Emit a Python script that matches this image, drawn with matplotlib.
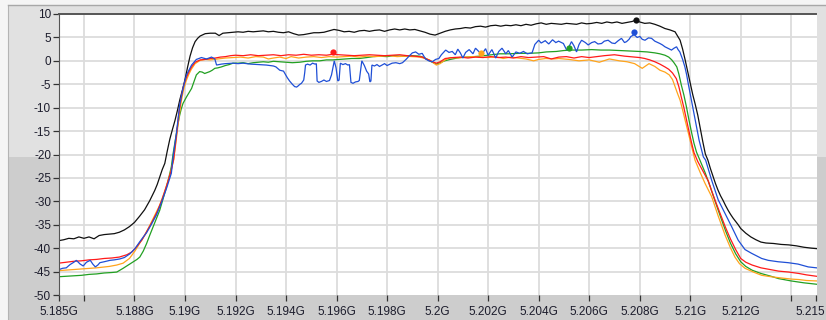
import matplotlib
matplotlib.use("Agg")
from matplotlib import pyplot as plt
from matplotlib.patches import Rectangle
from matplotlib.lines import Line2D
from matplotlib.transforms import ScaledTranslation

# frequency offsets in MHz from 5.185 GHz, level in dB
black_f = [0.0, 0.2, 0.4, 0.6, 0.8, 1.0, 1.2, 1.4, 1.6, 1.8, 2.0, 2.2, 2.4, 2.6, 2.8, 3.0, 3.2, 3.4, 3.6, 3.8,
           3.9, 4.0, 4.1, 4.2, 4.3, 4.4, 4.5, 4.6, 4.7, 4.8, 4.9, 5.0, 5.1, 5.2, 5.3, 5.4, 5.5, 5.6, 5.8, 6.0,
           6.2, 6.35, 6.5, 6.7, 6.9, 7.1, 7.3, 7.5, 7.7, 7.9, 8.1, 8.3, 8.5, 8.7, 8.9, 9.1, 9.3, 9.5, 9.7, 9.9,
           10.1, 10.3, 10.5, 10.7, 10.9, 11.1, 11.3, 11.5, 11.7, 11.9, 12.1, 12.3, 12.5, 12.7, 12.9, 13.1, 13.3,
           13.5, 13.7, 13.9, 14.1, 14.3, 14.5, 14.7, 14.9, 15.1, 15.3, 15.5, 15.7, 15.9, 16.1, 16.3, 16.5, 16.7,
           16.9, 17.1, 17.3, 17.5, 17.7, 17.9, 18.1, 18.3, 18.5, 18.7, 18.9, 19.1, 19.3, 19.5, 19.7, 19.9, 20.1,
           20.3, 20.5, 20.7, 20.9, 21.1, 21.3, 21.5, 21.7, 21.9, 22.1, 22.3, 22.5, 22.7, 22.85, 23.0, 23.2, 23.4,
           23.6, 23.8, 24.0, 24.2, 24.4, 24.5, 24.6, 24.7, 24.8, 24.9, 25.0, 25.1, 25.2, 25.3, 25.4, 25.5, 25.6,
           25.7, 25.8, 25.9, 26.0, 26.1, 26.2, 26.3, 26.4, 26.5, 26.6, 26.7, 26.8, 26.9, 27.0, 27.2, 27.4, 27.6,
           27.8, 28.0, 28.3, 28.6, 28.9, 29.2, 29.5, 29.8, 30.0]
black_db = [-38.4, -38.2, -37.9, -38.0, -37.6, -37.9, -37.6, -38.0, -37.3, -37.1, -37.0, -36.9, -36.6, -36.1,
            -35.4, -34.5, -33.2, -31.8, -29.9, -27.7, -26.4, -24.8, -23.2, -21.9, -19.2, -16.7, -14.7, -12.8,
            -10.6, -8.2, -6.2, -4.0, -1.4, 1.0, 2.8, 4.1, 4.8, 5.3, 5.8, 5.9, 5.9, 5.4, 5.9, 6.0, 6.1, 6.2, 6.1,
            6.3, 6.2, 6.3, 6.4, 6.2, 6.3, 6.1, 6.0, 6.2, 5.8, 5.5, 5.6, 5.8, 6.0, 6.0, 6.1, 6.4, 6.7, 6.5, 6.2,
            6.3, 6.1, 6.4, 6.5, 6.3, 6.5, 6.6, 6.3, 6.6, 6.8, 6.6, 6.8, 6.6, 6.7, 6.4, 6.1, 5.7, 5.5, 5.9, 6.3,
            6.6, 6.8, 6.9, 7.1, 7.0, 7.3, 7.4, 7.2, 7.5, 7.6, 7.4, 7.6, 7.5, 7.7, 7.5, 7.8, 7.6, 7.9, 8.1, 7.8,
            8.0, 7.9, 7.8, 8.0, 7.9, 7.8, 8.1, 7.9, 8.0, 8.2, 8.0, 8.3, 8.1, 8.3, 8.0, 8.2, 8.4, 8.7, 8.3, 8.0,
            8.1, 7.8, 7.4, 6.9, 6.6, 6.2, 5.3, 4.4, 2.5, 0.2, -2.3, -4.8, -7.2, -9.3, -11.6, -14.5, -17.3, -19.9,
            -21.2, -23.0, -24.6, -26.2, -27.6, -28.8, -29.8, -30.9, -31.9, -32.8, -33.6, -34.3, -35.0, -35.8,
            -36.8, -37.6, -38.2, -38.7, -38.9, -39.0, -39.2, -39.3, -39.5, -39.8, -40.0, -40.1]

red_f = [0.0, 0.3, 0.6, 0.9, 1.2, 1.5, 1.8, 2.1, 2.4, 2.7, 2.9, 3.1, 3.3, 3.5, 3.7, 3.9, 4.1, 4.3, 4.45, 4.55,
         4.65, 4.75, 4.85, 4.95, 5.05, 5.15, 5.25, 5.4, 5.6, 5.8, 6.0, 6.2, 6.4, 6.6, 6.8, 7.0, 7.3, 7.6, 7.9,
         8.2, 8.5, 8.8, 9.1, 9.4, 9.7, 10.0, 10.3, 10.6, 10.85, 11.1, 11.4, 11.7, 12.0, 12.3, 12.6, 12.9, 13.2,
         13.5, 13.8, 14.1, 14.4, 14.6, 14.8, 14.95, 15.1, 15.3, 15.6, 15.9, 16.2, 16.5, 16.8, 17.1, 17.4, 17.7,
         18.0, 18.3, 18.6, 18.9, 19.2, 19.5, 19.8, 20.1, 20.4, 20.7, 21.0, 21.3, 21.6, 22.0, 22.4, 22.8, 23.0,
         23.2, 23.4, 23.6, 23.8, 24.0, 24.15, 24.3, 24.45, 24.55, 24.65, 24.75, 24.85, 24.95, 25.05, 25.15,
         25.3, 25.45, 25.6, 25.72, 25.85, 26.0, 26.2, 26.4, 26.6, 26.8, 27.0, 27.2, 27.45, 27.8, 28.2, 28.5,
         28.9, 29.3, 29.6, 30.0]
red_db = [-43.2, -43.0, -42.8, -42.7, -42.5, -42.4, -42.2, -42.1, -41.9, -41.4, -40.8, -39.6, -38.2, -36.3,
          -34.4, -32.2, -29.5, -26.2, -23.5, -21.0, -16.5, -11.5, -7.8, -5.2, -3.6, -2.4, -1.4, -0.3, 0.2, 0.3,
          0.5, 0.6, 0.8, 0.9, 1.1, 1.2, 1.1, 1.3, 1.1, 1.2, 1.3, 1.1, 1.3, 1.2, 1.4, 1.2, 1.3, 1.2, 1.4, 1.3,
          1.2, 1.1, 1.2, 1.3, 1.2, 1.1, 1.2, 1.3, 1.1, 1.0, 0.8, 0.3, -0.2, -0.5, -0.2, 0.5, 0.7, 0.8, 0.6,
          0.8, 0.7, 0.9, 0.7, 0.8, 0.6, 0.9, 0.7, 0.8, 0.9, 0.4, 0.8, 0.9, 0.6, 0.9, 0.7, 0.9, 1.1, 1.3, 1.0,
          0.8, 0.7, 0.5, 0.2, -0.2, -0.7, -1.3, -1.8, -2.6, -3.8, -5.5, -7.8, -10.0, -12.5, -15.0, -17.4,
          -19.6, -21.5, -23.0, -24.5, -25.7, -27.8, -30.0, -32.8, -35.6, -38.1, -40.3, -42.2, -43.0, -43.6,
          -44.2, -44.6, -44.9, -45.1, -45.4, -45.7, -46.0]

orange_f = [0.0, 0.5, 1.0, 1.5, 2.0, 2.3, 2.55, 2.8, 3.02, 3.2, 3.4, 3.6, 3.8, 4.0, 4.2, 4.4, 4.55, 4.65, 4.75,
            4.85, 4.95, 5.05, 5.15, 5.25, 5.4, 5.6, 5.8, 6.0, 6.3, 6.6, 6.9, 7.2, 7.5, 7.8, 8.1, 8.3, 8.5, 8.75,
            9.0, 9.2, 9.5, 9.8, 10.1, 10.4, 10.7, 11.0, 11.3, 11.6, 11.9, 12.2, 12.5, 12.8, 13.1, 13.4, 13.7,
            14.0, 14.3, 14.5, 14.68, 14.85, 14.95, 15.1, 15.3, 15.5, 15.8, 16.1, 16.4, 16.7, 17.0, 17.3, 17.6,
            17.9, 18.2, 18.5, 18.8, 19.0, 19.28, 19.6, 19.8, 20.2, 20.6, 21.0, 21.4, 21.8, 22.2, 22.5, 22.8,
            23.1, 23.37, 23.6, 23.8, 24.0, 24.17, 24.3, 24.4, 24.5, 24.6, 24.7, 24.8, 24.93, 25.06, 25.19, 25.4,
            25.59, 25.85, 26.1, 26.38, 26.6, 26.77, 26.95, 27.17, 27.5, 27.83, 28.2, 28.5, 29.0, 29.3, 29.6, 30.0]
orange_db = [-44.8, -44.6, -44.4, -44.2, -43.9, -43.6, -43.2, -42.2, -40.6, -39.0, -37.3, -35.2, -33.0, -30.8,
             -27.8, -24.4, -21.2, -17.0, -12.5, -8.7, -6.0, -4.2, -2.9, -1.8, -0.6, 0.1, 0.3, 0.2, 0.4, 0.6, 0.7,
             0.8, 0.6, 0.9, 0.8, 0.4, 0.6, 0.8, 0.5, 0.9, 0.6, 0.8, 0.9, 0.7, 0.9, 0.8, 0.9, 1.0, 0.8, 1.0, 0.9,
             1.0, 1.1, 0.9, 1.0, 0.9, 0.8, 0.5, 0.2, -0.5, -0.9, -0.6, 0.2, 0.7, 0.6, 0.8, 0.9, 0.8, 0.7, 0.9,
             0.5, 0.8, 0.6, 0.4, 0.0, 0.3, 0.5, 0.4, 0.5, 0.3, 0.0, 0.2, -0.3, 0.4, 0.0, -0.2, -0.6, -1.6, -0.6,
             -1.2, -2.0, -2.4, -3.0, -4.0, -5.5, -7.0, -8.4, -10.5, -12.7, -15.5, -18.4, -21.2, -23.9, -26.2,
             -29.0, -33.0, -37.2, -40.0, -41.9, -43.3, -44.3, -45.1, -45.8, -46.1, -46.3, -46.6, -46.7, -46.9,
             -47.0]

green_f = [0.0, 0.3, 0.6, 0.9, 1.2, 1.5, 1.8, 2.1, 2.3, 2.55, 2.75, 2.95, 3.1, 3.21, 3.35, 3.48, 3.6, 3.74,
           3.87, 4.0, 4.13, 4.27, 4.37, 4.46, 4.53, 4.6, 4.66, 4.72, 4.79, 4.85, 4.92, 5.0, 5.06, 5.15, 5.26,
           5.35, 5.45, 5.58, 5.68, 5.78, 5.88, 5.98, 6.08, 6.18, 6.3, 6.44, 6.6, 6.75, 6.9, 7.1, 7.3, 7.5, 7.7,
           7.9, 8.1, 8.3, 8.5, 8.75, 9.0, 9.25, 9.54, 9.8, 10.05, 10.33, 10.6, 10.85, 11.1, 11.35, 11.6, 11.9,
           12.2, 12.45, 12.7, 13.0, 13.25, 13.5, 13.75, 14.0, 14.3, 14.5, 14.75, 14.95, 15.1, 15.28, 15.5,
           15.87, 16.2, 16.67, 17.0, 17.46, 17.8, 18.25, 18.6, 19.0, 19.3, 19.7, 20.0, 20.3, 20.7, 21.1, 21.46,
           21.8, 22.2, 22.65, 23.0, 23.3, 23.6, 23.8, 24.0, 24.15, 24.27, 24.37, 24.47, 24.55, 24.65, 24.75,
           24.85, 24.95, 25.05, 25.15, 25.25, 25.4, 25.6, 25.8, 26.0, 26.2, 26.4, 26.6, 26.8, 27.0, 27.2,
           27.45, 27.8, 28.2, 28.5, 29.0, 29.5, 30.0]
green_db = [-46.1, -46.0, -45.9, -45.8, -45.6, -45.5, -45.3, -45.2, -45.1, -44.3, -43.6, -42.9, -42.4, -41.9,
            -40.6, -39.0, -37.3, -35.4, -33.6, -31.9, -29.5, -26.9, -24.7, -22.6, -19.8, -17.5, -15.5, -13.5,
            -11.6, -10.3, -9.1, -8.3, -7.7, -6.9, -5.9, -4.5, -3.0, -2.3, -2.4, -2.7, -2.5, -2.3, -2.0, -1.6,
            -1.5, -1.3, -1.0, -0.8, -0.5, -0.5, -0.4, -0.6, -0.4, -0.3, -0.2, -0.3, -0.1, -0.2, -0.3, -0.4,
            -0.3, -0.1, 0.0, 0.0, 0.2, 0.2, 0.3, 0.4, 0.5, 0.5, 0.7, 0.9, 1.0, 0.9, 1.1, 1.0, 1.0, 1.1, 1.0,
            0.6, -0.2, -0.7, -0.4, 0.0, 0.3, 0.7, 0.8, 1.0, 1.2, 1.5, 1.5, 1.6, 1.6, 1.7, 1.9, 2.0, 2.2, 2.3,
            2.3, 2.4, 2.3, 2.3, 2.2, 2.1, 2.0, 1.9, 1.7, 1.5, 1.2, 0.8, 0.2, -0.5, -1.3, -2.8, -5.2, -7.3,
            -9.8, -12.6, -15.2, -17.6, -19.5, -21.4, -24.0, -27.0, -30.2, -33.3, -36.3, -39.0, -41.2, -42.9,
            -43.9, -44.7, -45.4, -46.0, -46.5, -47.0, -47.4, -47.7]

blue_f = [0.0, 0.15, 0.3, 0.45, 0.6, 0.7, 0.85, 0.97, 1.1, 1.25, 1.35, 1.45, 1.55, 1.63, 1.8, 2.03, 2.2, 2.42,
          2.6, 2.82, 3.02, 3.2, 3.35, 3.48, 3.65, 3.87, 4.05, 4.27, 4.46, 4.53, 4.66, 4.79, 4.92, 5.06, 5.26,
          5.45, 5.65, 5.85, 6.05, 6.18, 6.25, 6.44, 6.6, 6.9, 7.1, 7.3, 7.6, 7.9, 8.22, 8.5, 8.6, 8.75, 8.9,
          9.05, 9.14, 9.25, 9.34, 9.42, 9.47, 9.55, 9.61, 9.7, 9.74, 9.77, 9.85, 9.95, 10.05, 10.15, 10.2,
          10.23, 10.3, 10.4, 10.5, 10.6, 10.72, 10.8, 10.91, 10.98, 11.05, 11.1, 11.15, 11.25, 11.35, 11.45,
          11.51, 11.57, 11.65, 11.75, 11.85, 11.9, 12.0, 12.1, 12.19, 12.27, 12.32, 12.36, 12.4, 12.5, 12.6,
          12.7, 12.8, 12.9, 13.0, 13.08, 13.2, 13.35, 13.5, 13.61, 13.75, 13.87, 14.0, 14.13, 14.26, 14.39,
          14.52, 14.65, 14.79, 14.92, 15.05, 15.15, 15.32, 15.45, 15.58, 15.7, 15.8, 15.9, 16.0, 16.11, 16.25,
          16.4, 16.5, 16.63, 16.75, 16.9, 17.0, 17.15, 17.3, 17.42, 17.55, 17.7, 17.8, 17.95, 18.1, 18.25,
          18.4, 18.55, 18.74, 18.85, 19.0, 19.1, 19.26, 19.4, 19.55, 19.68, 19.79, 19.98, 20.11, 20.2, 20.3,
          20.4, 20.5, 20.6, 20.7, 20.85, 20.96, 21.1, 21.22, 21.35, 21.49, 21.6, 21.75, 21.9, 22.02, 22.15,
          22.28, 22.4, 22.48, 22.58, 22.65, 22.72, 22.78, 22.9, 23.01, 23.1, 23.21, 23.35, 23.47, 23.6, 23.8,
          23.9, 24.0, 24.15, 24.26, 24.36, 24.46, 24.52, 24.59, 24.7, 24.79, 24.86, 24.92, 25.02, 25.12,
          25.23, 25.35, 25.44, 25.52, 25.61, 25.85, 26.11, 26.38, 26.64, 26.9, 27.17, 27.43, 27.83, 28.09,
          28.48, 28.88, 29.27, 29.67, 30.0]
blue_db = [-44.6, -44.3, -44.2, -43.5, -43.0, -42.6, -43.4, -43.8, -43.0, -42.6, -43.4, -44.0, -43.6, -43.1,
           -42.9, -42.6, -42.5, -42.3, -42.0, -41.2, -40.1, -38.7, -37.6, -36.7, -35.1, -32.9, -30.5, -27.2,
           -24.0, -20.5, -15.5, -9.4, -5.9, -3.0, -0.9, 0.3, 0.7, 0.4, 0.8, 0.4, -0.9, -0.7, -0.6, -0.5, -0.6,
           -0.5, -0.7, -0.8, -0.9, -1.1, -1.3, -2.0, -2.2, -3.6, -4.3, -5.0, -5.5, -5.6, -5.4, -5.0, -4.8,
           -4.1, -2.5, -0.9, -0.7, -0.9, -0.5, -0.7, -0.6, -4.3, -4.6, -4.4, -4.1, -4.4, -4.2, -3.0, 0.0,
           -1.5, -4.3, -4.1, -0.5, -0.8, -0.6, -0.9, -0.8, -4.6, -4.8, -4.5, -4.4, -4.2, 0.0, -1.0, -2.2,
           -2.8, -4.5, -4.3, -0.9, -1.1, -0.8, -1.2, -0.9, -0.6, -1.0, -0.8, -0.5, -0.4, -0.6, -0.4, 0.3, 1.0,
           1.7, 1.9, 1.4, 1.6, 0.4, 0.0, -0.2, 0.3, 0.5, 1.3, 2.3, 1.8, 2.0, 1.3, 2.5, 1.7, 0.6, 1.8, 2.4,
           1.5, 2.7, 2.0, 1.4, 2.6, 1.2, 2.4, 0.6, 2.0, 2.7, 1.5, 2.2, 0.8, 1.9, 1.6, 2.0, 1.5, 1.7, 3.5, 4.4,
           3.8, 4.3, 3.6, 4.5, 3.9, 4.2, 3.7, 2.3, 3.0, 4.1, 3.2, 1.9, 3.5, 4.4, 3.9, 3.4, 3.9, 4.1, 3.6, 3.7,
           4.2, 4.4, 3.8, 3.7, 4.3, 4.8, 3.9, 4.1, 4.6, 5.2, 5.4, 5.6, 5.0, 5.2, 4.6, 4.4, 4.9, 4.8, 4.2, 3.7,
           3.4, 3.0, 2.6, 2.3, 2.7, 3.0, 2.4, 1.9, 0.3, -1.3, -3.0, -4.8, -7.6, -10.5, -13.5, -16.9, -18.8,
           -20.5, -21.2, -25.5, -29.7, -32.6, -35.4, -38.3, -40.3, -41.1, -42.2, -42.6, -42.9, -43.1, -43.4,
           -44.0, -44.2]

# peak markers (offset MHz, dB)
markers_f = [22.85, 22.78, 10.84, 16.72, 20.21]
markers_db = [8.7, 6.1, 1.8, 1.6, 2.7]

series_colors = ["#101010", "#1f4fd6", "#ff1a1a", "#ffa41c", "#22a022"]

x_ticks = [5.185, 5.186, 5.188, 5.190, 5.192, 5.194, 5.196, 5.198, 5.200, 5.202, 5.204, 5.206, 5.208,
           5.210, 5.212, 5.214, 5.215]
x_labels = ["5.185G", "", "5.188G", "5.19G", "5.192G", "5.194G", "5.196G", "5.198G", "5.2G", "5.202G",
            "5.204G", "5.206G", "5.208G", "5.21G", "5.212G", "", "5.215"]
y_ticks = [10, 5, 0, -5, -10, -15, -20, -25, -30, -35, -40, -45, -50]
y_labels = ["10", "5", "0", "-5", "-10", "-15", "-20", "-25", "-30", "-35", "-40", "-45", "-50"]


def ghz(offsets):
    return [5.185 + d / 1000.0 for d in offsets]


W, H = 826, 320
fig = plt.figure(figsize=(W / 100, H / 100), dpi=100)
fig.patch.set_facecolor("#f5f5f5")

# panel background (LabVIEW style)
fig.add_artist(Rectangle((8 / W, 0), 1 - 8 / W, (H - 157) / H, transform=fig.transFigure,
                         facecolor="#cdcdcd", edgecolor="none", zorder=0))
fig.add_artist(Rectangle((8 / W, (H - 157) / H), 1 - 8 / W, (157 - 5) / H, transform=fig.transFigure,
                         facecolor="#e1e1e1", edgecolor="none", zorder=0))
fig.add_artist(Line2D([8 / W, 8 / W], [0, (H - 5) / H], transform=fig.transFigure, color="#b4b4b4", lw=0.8))
fig.add_artist(Line2D([8 / W, 1], [(H - 5) / H, (H - 5) / H], transform=fig.transFigure, color="#a8a8a8", lw=1.0))

ax = fig.add_axes([58.7 / W, (H - 295) / H, (816.5 - 58.7) / W, 281 / H])
ax.set_facecolor("white")

for f, v, c in [(black_f, black_db, series_colors[0]), (green_f, green_db, series_colors[4]),
                (orange_f, orange_db, series_colors[3]), (red_f, red_db, series_colors[2]),
                (blue_f, blue_db, series_colors[1])]:
    ax.plot(ghz(f), v, color=c, lw=0.9, solid_joinstyle="miter")

for f, v, c in zip(markers_f, markers_db, series_colors):
    ax.plot(ghz([f]), [v], "o", color=c, markersize=4.5, markeredgewidth=0)

ax.set_xlim(5.185, 5.215)
ax.set_ylim(-50, 10)
ax.set_xticks(x_ticks)
ax.set_xticklabels(x_labels)
ax.set_yticks(y_ticks)
ax.set_yticklabels(y_labels)

for v in y_ticks[1:-1]:
    ax.axhline(v, color="#dcdcdc", lw=1.3, zorder=0)
for t in x_ticks[1:-1]:
    ax.axvline(t, color="#dcdcdc", lw=1.3, zorder=0)

ax.tick_params(axis="both", direction="out", length=4, width=0.9, color="#333333",
               labelsize=8.5, labelcolor="#1c1c2c")
ax.tick_params(axis="y", pad=1.5)
ax.tick_params(axis="x", pad=4)
for lab in ax.get_xticklabels() + ax.get_yticklabels():
    lab.set_fontfamily("Liberation Sans")

# last label sits against the right edge, as in the reference
last = ax.get_xticklabels()[-1]
last.set_horizontalalignment("right")
last.set_transform(last.get_transform() + ScaledTranslation(9 / 100, 0, fig.dpi_scale_trans))

ax.spines["left"].set_color("#555555")
ax.spines["top"].set_color("#555555")
ax.spines["top"].set_linewidth(1.4)
ax.spines["right"].set_visible(False)
ax.spines["bottom"].set_visible(False)

fig.savefig("out.png", dpi=100, facecolor=fig.get_facecolor())
